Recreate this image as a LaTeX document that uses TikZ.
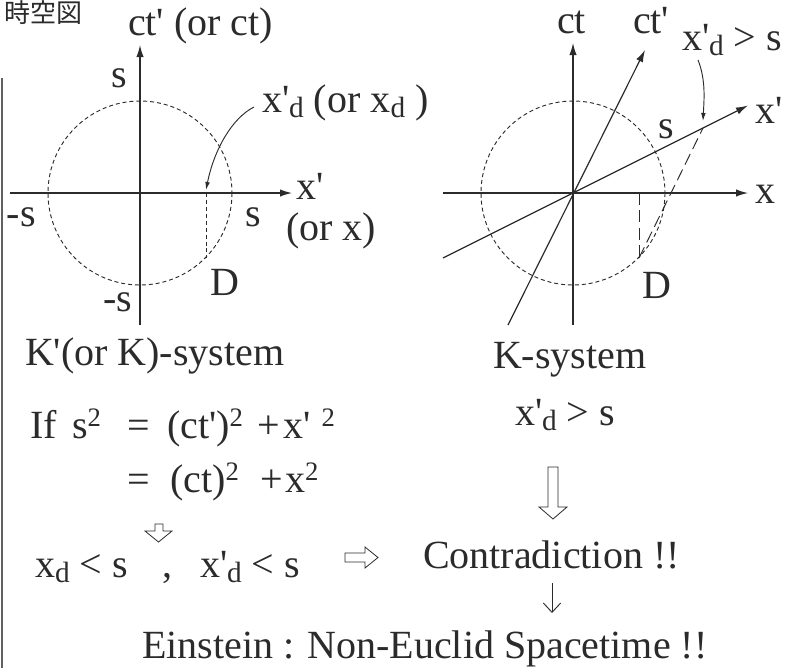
\documentclass[tikz,border=0pt]{standalone}
\usepackage{fontspec}
\setmainfont{Liberation Serif}
\newfontfamily\cjk{Noto Sans CJK JP}
\usetikzlibrary{arrows.meta}
\definecolor{ink}{HTML}{2B2B2B}
\newcommand{\apos}{\textquotesingle}
\newcommand{\dsub}[1]{\raisebox{-0.14em}{\fontsize{22}{22}\selectfont #1}}
\newcommand{\dsup}[1]{\raisebox{0.3em}{\fontsize{20}{20}\selectfont #1}}
\begin{document}
\begin{tikzpicture}[x=0.75pt,y=-0.75pt,
  lbl/.style={anchor=base west,inner sep=0pt,outer sep=0pt,text=ink,font=\fontsize{30}{36}\selectfont},
  axis/.style={draw=ink,line width=0.9pt,-{Latex[length=9pt,width=5.5pt]}},
  circ/.style={draw=ink,line width=0.7pt,dash pattern=on 3pt off 2.2pt},
  ldash/.style={draw=ink,line width=0.7pt,dash pattern=on 9pt off 4pt},
  sdash/.style={draw=ink,line width=0.7pt,dash pattern=on 3pt off 2.2pt},
  pointer/.style={draw=ink,line width=0.7pt,-{Latex[length=6pt,width=3.5pt]}},
  hollow/.style={draw=ink,line width=0.6pt,fill=white}]
\useasboundingbox (0,0) rectangle (798,668);

% title and border
\node[anchor=west,inner sep=0pt,text=ink,font=\cjk\fontsize{19.5}{20}\selectfont] (jp) at (4,13) {時空図};
\draw[draw=ink!75,line width=1.2pt] (2,78) -- (2,668);

% ---------- left diagram ----------
\coordinate (O1) at (140,193);
\coordinate (h1s) at (10,193); \coordinate (h1e) at (292,193);
\coordinate (v1s) at (140,325); \coordinate (v1e) at (140,45);
\draw[axis] (h1s) -- (h1e);
\draw[axis] (v1s) -- (v1e);
\draw[circ] (O1) circle[radius=92];
\coordinate (F1) at (206,193); \coordinate (D1) at (206,258);
\draw[sdash] (F1) -- (D1);
\coordinate (p1s) at (254,107); \coordinate (p1e) at (206,190);
\draw[pointer] (p1s) .. controls (232,118) and (214,150) .. (p1e);

\node[lbl] (ctl) at (128,35) {ct\apos{} (or ct)};
\node[lbl] (s1t) at (111,87) {s};
\node[lbl] (xdl) at (262,112) {x\apos\dsub{d} (or x\dsub{d} )};
\node[lbl] (s1l) at (7,226) {-s};
\node[lbl] (s1r) at (245,226) {s};
\node[lbl] (x1) at (296,199) {x\apos};
\node[lbl] (orx) at (286,240) {(or x)};
\node[lbl] (s1b) at (103,311) {-s};
\node[lbl] (Dl) at (210,295) {D};

% ---------- right diagram ----------
\coordinate (O2) at (573,193);
\coordinate (h2s) at (443,193); \coordinate (h2e) at (748,193);
\coordinate (v2s) at (573,325); \coordinate (v2e) at (573,43);
\coordinate (c2s) at (508,325); \coordinate (c2e) at (645,50);
\coordinate (x2s) at (443,258); \coordinate (x2e) at (748,105.5);
\draw[axis] (h2s) -- (h2e);
\draw[axis] (v2s) -- (v2e);
\draw[axis] (c2s) -- (c2e);
\draw[axis] (x2s) -- (x2e);
\draw[circ] (O2) circle[radius=92];
\coordinate (F2) at (639,193); \coordinate (D2) at (639,258); \coordinate (P2) at (703,128);
\draw[ldash] (F2) -- (D2);
\draw[ldash] (D2) -- (P2);
\coordinate (p2s) at (698,60); \coordinate (p2e) at (703,121);
\draw[pointer] (p2s) .. controls (706,80) and (704,100) .. (p2e);

\node[lbl] (ctr) at (557,33) {ct};
\node[lbl] (ctpr) at (633,33) {ct\apos};
\node[lbl] (xdr) at (682,50) {x\apos\dsub{d} > s};
\node[lbl] (xpr) at (755,123) {x\apos};
\node[lbl] (s2) at (658,138) {s};
\node[lbl] (xr) at (755,203) {x};
\node[lbl] (Dr) at (642,298) {D};

% ---------- lower text ----------
\node[lbl] (kps) at (25,365) {K\apos(or K)-system};
\node[lbl] (if) at (30,438) {If};
\node[lbl] (ss) at (72,438) {s\dsup{2}};
\node[lbl] (eqa) at (127,438) {=};
\node[lbl] (cta) at (167,438) {(ct\apos)\dsup{2}};
\node[lbl] (pla) at (257,438) {+};
\node[lbl] (xpa) at (283,438) {x\apos\hspace{8.5pt}\dsup{2}};
\node[lbl] (eqb) at (127,492) {=};
\node[lbl] (ctb) at (170,492) {(ct)\dsup{2}};
\node[lbl] (plb) at (260,492) {+};
\node[lbl] (xb) at (285,492) {x\dsup{2}};
\node[lbl] (xdlt) at (35,577) {x\dsub{d} < s};
\node[lbl] (comma) at (162,577) {,};
\node[lbl] (xpdlt) at (200,577) {x\apos\dsub{d} < s};

\node[lbl] (ks) at (493,368) {K-system};
\node[lbl] (xdgt) at (515,425) {x\apos\dsub{d} > s};
\node[lbl] (contra) at (423,568) {Contradiction !!};
\node[lbl] (ein) at (142,658) {Einstein : Non-Euclid Spacetime !!};

% hollow arrows
\draw[hollow] (155,524) -- (163,524) -- (163,531) -- (172,531) -- (158.5,542) -- (145,531) -- (155,531) -- cycle;
\draw[hollow] (548,467) -- (558,467) -- (558,507) -- (567,507) -- (553,519) -- (539,507) -- (548,507) -- cycle;
\draw[hollow] (345,553) -- (365,553) -- (365,547) -- (378,557.5) -- (365,568) -- (365,562) -- (345,562) -- cycle;

% thin down arrow
\coordinate (ta) at (552,583); \coordinate (tb) at (552,613);
\draw[draw=ink,line width=0.7pt,-{Straight Barb[length=7pt,width=13pt]}] (ta) -- (tb);
\end{tikzpicture}
\end{document}
